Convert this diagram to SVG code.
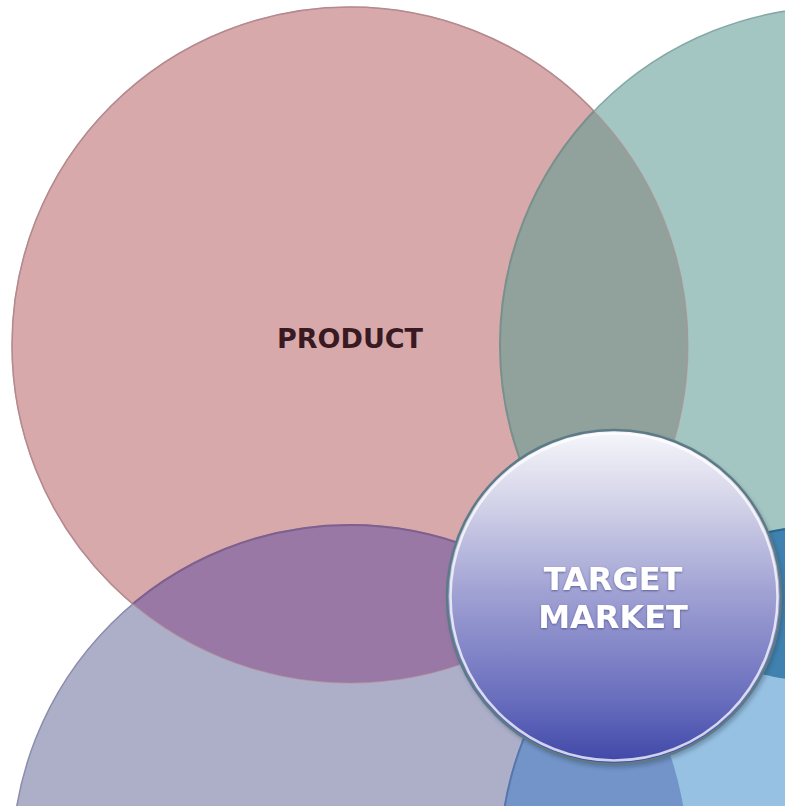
<svg xmlns="http://www.w3.org/2000/svg" width="785" height="806" viewBox="0 0 785 806">
  <defs>
    <clipPath id="cPink"><circle cx="350" cy="345" r="338"/></clipPath>
    <clipPath id="cTeal"><circle cx="838" cy="345" r="338"/></clipPath>
    <clipPath id="cLav"><circle cx="350" cy="863" r="338"/></clipPath>
    <clipPath id="cBlue"><circle cx="838" cy="863" r="338"/></clipPath>
    <linearGradient id="gTarget" x1="0" y1="0" x2="0" y2="1">
      <stop offset="0" stop-color="#f6f6fb"/>
      <stop offset="0.2" stop-color="#d6d6ea"/>
      <stop offset="0.5" stop-color="#9e9fd2"/>
      <stop offset="0.8" stop-color="#6a6fbe"/>
      <stop offset="1" stop-color="#3f47a8"/>
    </linearGradient>
    <filter id="soft" x="-20%" y="-20%" width="140%" height="140%">
      <feGaussianBlur stdDeviation="2"/>
    </filter>
    <filter id="txtShadow" x="-10%" y="-30%" width="120%" height="160%">
      <feDropShadow dx="0" dy="1" stdDeviation="1.2" flood-color="#3a3f80" flood-opacity="0.7"/>
    </filter>
  </defs>
  <style>
    .label { font-family: "DejaVu Sans", Verdana, sans-serif; font-weight: bold; text-anchor: middle; }
    .ring { stroke-width: 1.5; }
  </style>
  <rect width="785" height="806" fill="#ffffff"/>

  <!-- outer circles -->
  <g id="product">
    <circle cx="350" cy="345" r="338" fill="#d8a9aa" stroke="#b48a8f" class="ring"/>
  </g>
  <g id="teal">
    <circle cx="838" cy="345" r="338" fill="#a4c6c2" stroke="#86a8a6" class="ring"/>
  </g>
  <g id="lavender">
    <circle cx="350" cy="863" r="338" fill="#adafc9" stroke="#8a8dab" class="ring"/>
  </g>
  <g id="blue">
    <circle cx="838" cy="863" r="338" fill="#97c1e2" stroke="#6f9cc0" class="ring"/>
  </g>

  <!-- overlap lenses -->
  <g id="overlaps">
    <g clip-path="url(#cPink)">
      <circle cx="838" cy="345" r="338" fill="#91a29c" stroke="#7a908c" stroke-width="2"/>
    </g>
    <g clip-path="url(#cPink)">
      <circle cx="350" cy="863" r="338" fill="#9978a6" stroke="#7f5f8e" stroke-width="2"/>
    </g>
    <g clip-path="url(#cLav)">
      <circle cx="838" cy="863" r="338" fill="#7394c9" stroke="#5676ac" stroke-width="2"/>
    </g>
    <g clip-path="url(#cTeal)">
      <circle cx="838" cy="863" r="338" fill="#3f82b0" stroke="#2d6890" stroke-width="2"/>
    </g>
    <!-- edge lines redrawn over the lenses -->
    <circle cx="350" cy="345" r="338" fill="none" stroke="#b48a8f" stroke-width="1.2" opacity="0.6"/>
  </g>

  <!-- centre node -->
  <g id="target-market">
    <circle cx="616" cy="600" r="168" fill="#2e3f5a" opacity="0.35" filter="url(#soft)"/>
    <circle cx="614" cy="597" r="167" fill="url(#gTarget)" stroke="#5c7b86" stroke-width="2.5"/>
    <circle cx="614" cy="597" r="163.5" fill="none" stroke="#ffffff" stroke-opacity="0.75" stroke-width="2.5"/>
    <text class="label" x="613" y="590" font-size="32" fill="#ffffff" filter="url(#txtShadow)">TARGET</text>
    <text class="label" x="613" y="628" font-size="32" fill="#ffffff" filter="url(#txtShadow)">MARKET</text>
  </g>

  <g id="product-label">
    <text class="label" x="350" y="348" font-size="27" fill="#3a1a22">PRODUCT</text>
  </g>
</svg>
